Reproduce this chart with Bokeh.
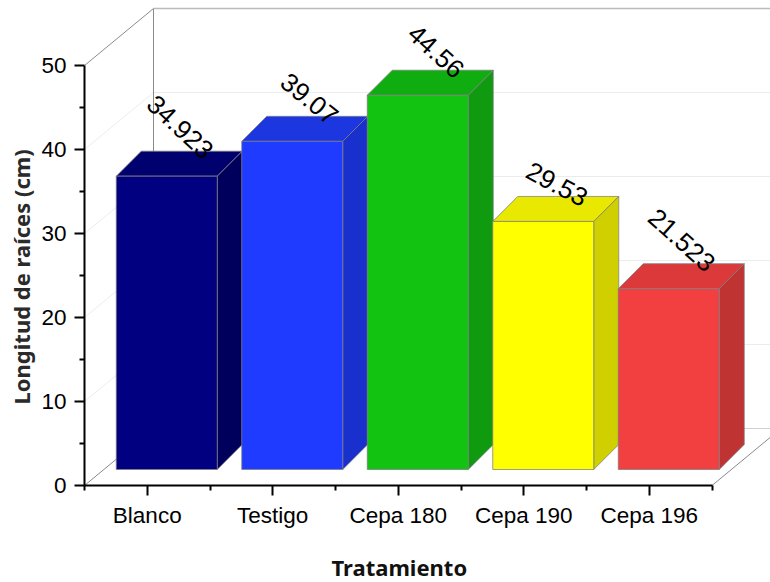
from bokeh.plotting import figure
from bokeh.models import Range1d, FixedTicker, ColumnDataSource, Title
from bokeh.core.properties import value
from bokeh.embed import file_html
from bokeh.resources import INLINE

categories = ["Blanco", "Testigo", "Cepa 180", "Cepa 190", "Cepa 196"]
lengths = [34.923, 39.07, 44.56, 29.53, 21.523]
value_labels = ["34.923", "39.07", "44.56", "29.53", "21.523"]
label_angles = [-43, -39, -42, -28, -42]
y_ticks = [0, 10, 20, 30, 40, 50]
y_minor = [5, 15, 25, 35, 45]
front_colors = ["#000080", "#1f3bff", "#12c312", "#ffff00", "#f24040"]
top_colors = ["#00006e", "#1c36e0", "#10ad10", "#e8e800", "#dc3a3a"]
side_colors = ["#00005c", "#1a30cc", "#0f9a0f", "#d0d000", "#c03333"]

# projection of the pseudo-3D box, in axis units
PX_X = 125.5
PX_Y = 8.4
WALL_DX = 69 / PX_X
WALL_DY = 57 / PX_Y
BAR_SHIFT_X = 19.5 / PX_X
BAR_BASE = 16 / PX_Y
BAR_W = 101 / PX_X
BAR_DX = 25 / PX_X
BAR_DY = 25 / PX_Y

p = figure(width=770, height=582, output_backend="svg", toolbar_location=None,
           x_range=Range1d(-0.5, -0.5 + 686 / PX_X),
           y_range=Range1d(0, 485 / PX_Y),
           min_border_left=84, min_border_right=0, min_border_top=0, min_border_bottom=97)
p.outline_line_color = None
p.background_fill_color = "white"
p.xgrid.visible = False
p.ygrid.visible = False

x0, x1 = -0.5, 4.5
# wall grid
for t in y_ticks[1:-1]:
    p.line([x0, x0 + WALL_DX, x1 + WALL_DX + 1], [t, t + WALL_DY, t + WALL_DY], line_color="#ececec", line_width=1)
# frame of the walls
p.line([x0, x0 + WALL_DX, x0 + WALL_DX], [50, 50 + WALL_DY, WALL_DY], line_color="#8a8a8a", line_width=1)
p.line([x0 + WALL_DX, x1 + WALL_DX + 1], [50 + WALL_DY] * 2, line_color="#bbbbbb", line_width=1.5)
p.line([x0 + WALL_DX, x1 + WALL_DX + 1], [WALL_DY] * 2, line_color="#d0d0d0", line_width=1)
p.line([x0, x0 + WALL_DX], [0, WALL_DY], line_color="#8a8a8a", line_width=1)
p.line([x1, x1 + WALL_DX], [0, WALL_DY], line_color="#8a8a8a", line_width=1)

xs, ys, cs = [], [], []
for i, v in enumerate(lengths):
    l = i + BAR_SHIFT_X - BAR_W / 2
    r = i + BAR_SHIFT_X + BAR_W / 2
    b = BAR_BASE
    t = BAR_BASE + v
    xs += [[l, r, r + BAR_DX, l + BAR_DX],
           [r, r + BAR_DX, r + BAR_DX, r],
           [l, r, r, l]]
    ys += [[t, t, t + BAR_DY, t + BAR_DY],
           [b, b + BAR_DY, t + BAR_DY, t],
           [b, b, t, t]]
    cs += [top_colors[i], side_colors[i], front_colors[i]]
p.patches(xs, ys, fill_color=cs, line_color="#7d7d80", line_width=0.75)

src = ColumnDataSource(dict(x=list(range(len(lengths))),
                            y=[v + BAR_BASE for v in lengths], t=value_labels,
                            a=label_angles))
p.text("x", "y", text="t", source=src, angle="a", angle_units="deg",
       x_offset=62, y_offset=-22, text_align="right", text_baseline="middle",
       text_font=value("Liberation Sans"), text_font_size="26px", text_color="black")

ax = p.xaxis[0]
ax.bounds = (x0, x1)
ax.ticker = FixedTicker(ticks=list(range(5)), minor_ticks=[k - 0.5 for k in range(6)])
ax.major_label_overrides = {i: c for i, c in enumerate(categories)}
ax.major_label_standoff = 7
ay = p.yaxis[0]
ay.bounds = (0, 50)
ay.ticker = FixedTicker(ticks=y_ticks, minor_ticks=y_minor)
ay.major_label_standoff = 8

for a in (ax, ay):
    a.axis_line_color = "black"
    a.axis_line_width = 2
    a.major_tick_line_color = "black"
    a.major_tick_line_width = 2
    a.minor_tick_line_color = "black"
    a.minor_tick_line_width = 2
    a.major_tick_out = 10
    a.major_tick_in = 0
    a.minor_tick_out = 5
    a.minor_tick_in = 0
    a.major_label_text_font = "Liberation Sans"
    a.major_label_text_font_size = "22.5px"
    a.major_label_text_color = "black"

# blank title: only a spacer between the tick labels and the axis title
p.add_layout(Title(text=" ", standoff=16, text_font_size="1px"), "below")
p.add_layout(Title(text="Tratamiento", align="left", offset=247, standoff=0, vertical_align="bottom",
                   text_font="Noto Sans", text_font_style="bold", text_font_size="22px",
                   text_color="#111111"), "below")
p.add_layout(Title(text="Longitud de raíces (cm)", align="left", offset=81, standoff=6,
                   text_font="Noto Sans", text_font_style="bold", text_font_size="22px",
                   text_color="#2a2a2a"), "left")

open("out.html", "w").write(file_html(p, INLINE))
